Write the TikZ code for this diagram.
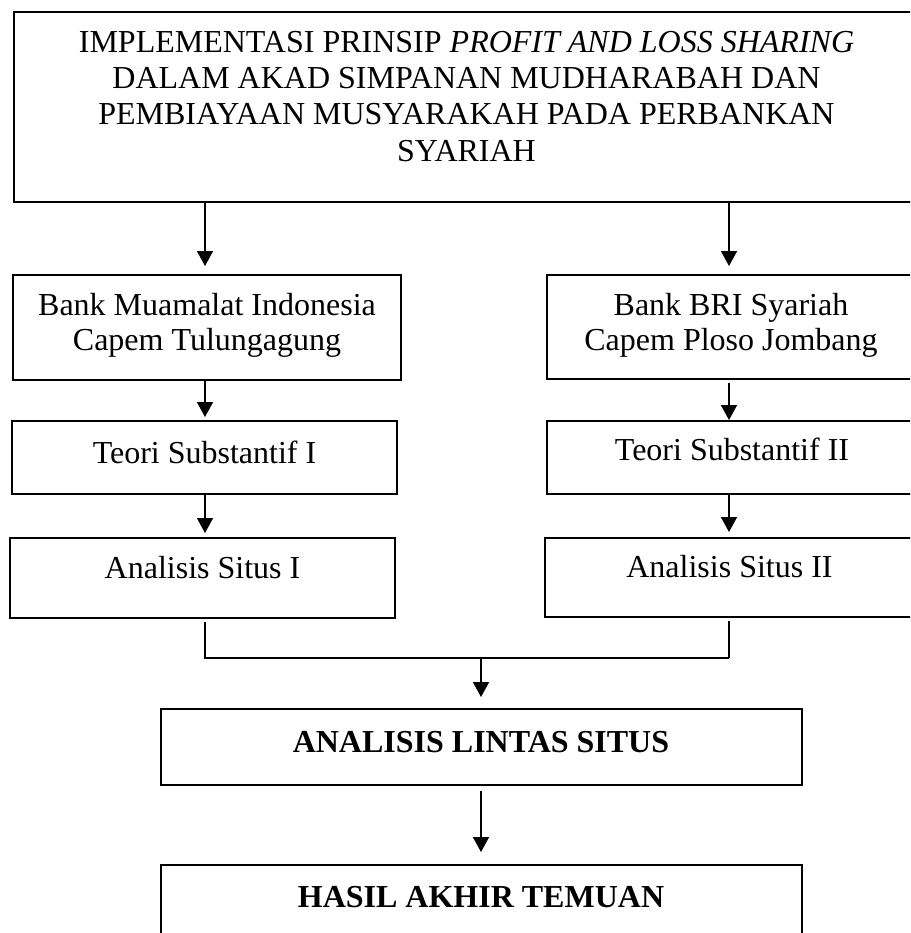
\documentclass[tikz,border=0pt]{standalone}
\usepackage{fontspec}
\setmainfont{Liberation Serif}
\usetikzlibrary{arrows.meta}
\tikzset{
  boxnode/.style={draw=black, line width=1.6pt, rectangle, inner sep=0pt, outer sep=0pt},
  txt/.style={inner sep=0pt, outer sep=0pt, font=\fontsize{32}{35}\selectfont, align=center},
  conn/.style={line width=1.6pt},
  arr/.style={line width=1.6pt, -{Triangle[width=16pt,length=15pt]}}
}
\begin{document}
\begin{tikzpicture}[x=1pt,y=-1pt]
\useasboundingbox (0,0) rectangle (910,933);
\clip (0,0) rectangle (910,933);
% boxes
\node[boxnode, minimum width=906pt, minimum height=190pt] (top) at (467,107) {};
\node[boxnode, minimum width=388pt, minimum height=105pt] (bankL) at (207,327.5) {};
\node[boxnode, minimum width=385pt, minimum height=73pt] (teoriL) at (204.5,457.5) {};
\node[boxnode, minimum width=385pt, minimum height=80pt] (anaL) at (202.5,578) {};
\node[boxnode, minimum width=368pt, minimum height=104pt] (bankR) at (731,327) {};
\node[boxnode, minimum width=368pt, minimum height=73pt] (teoriR) at (731,457.5) {};
\node[boxnode, minimum width=370pt, minimum height=79pt] (anaR) at (730,577.5) {};
\node[boxnode, minimum width=641pt, minimum height=76pt] (lintas) at (481.5,747) {};
\node[boxnode, minimum width=641pt, minimum height=95pt] (hasil) at (481.5,912.5) {};
% texts
\node[txt, anchor=north, font=\fontsize{32}{36.3}\selectfont] (ttop) at (466.5,31)
  {IMPLEMENTASI PRINSIP \textit{PROFIT AND LOSS SHARING}\\
   DALAM AKAD SIMPANAN MUDHARABAH DAN\\
   PEMBIAYAAN MUSYARAKAH PADA PERBANKAN\\
   SYARIAH};
\node[txt, anchor=north] (tbankL) at (207,293) {Bank Muamalat Indonesia\\Capem Tulungagung};
\node[txt, anchor=north] (tbankR) at (731,293) {Bank BRI Syariah\\Capem Ploso Jombang};
\node[txt, anchor=base] (tteoriL) at (204.5,463) {Teori Substantif I};
\node[txt, anchor=base] (tteoriR) at (732,460) {Teori Substantif II};
\node[txt, anchor=base] (tanaL) at (202.5,578) {Analisis Situs I};
\node[txt, anchor=base] (tanaR) at (729.5,577) {Analisis Situs II};
\node[txt, anchor=base] (tlintas) at (481,752) {\textbf{ANALISIS LINTAS SITUS}};
\node[txt, anchor=base] (thasil) at (481,907) {\textbf{HASIL AKHIR TEMUAN}};
% columns
\coordinate (colL) at (205,0);
\coordinate (colR) at (729,0);
\coordinate (colM) at (481,0);
\coordinate (join) at (0,658);
% arrows
\draw[arr, shorten >=9pt] (top.south -| colL) -- (bankL.north -| colL);
\draw[arr, shorten >=9pt] (top.south -| colR) -- (bankR.north -| colR);
\draw[arr, shorten >=4pt] (bankL.south -| colL) -- (teoriL.north -| colL);
\draw[arr, shorten <=4pt, shorten >=1pt] (bankR.south -| colR) -- (teoriR.north -| colR);
\draw[arr, shorten >=5pt] (teoriL.south -| colL) -- (anaL.north -| colL);
\draw[arr, shorten >=6pt] (teoriR.south -| colR) -- (anaR.north -| colR);
\draw[conn, shorten <=4pt] (anaL.south -| colL) -- (join -| colL) -- (join -| colR);
\draw[conn, shorten <=4pt] (anaR.south -| colR) -- (join -| colR);
\draw[arr, shorten >=12pt] (join -| colM) -- (lintas.north -| colM);
\draw[arr, shorten <=6pt, shorten >=13pt] (lintas.south -| colM) -- (hasil.north -| colM);
\end{tikzpicture}
\end{document}
